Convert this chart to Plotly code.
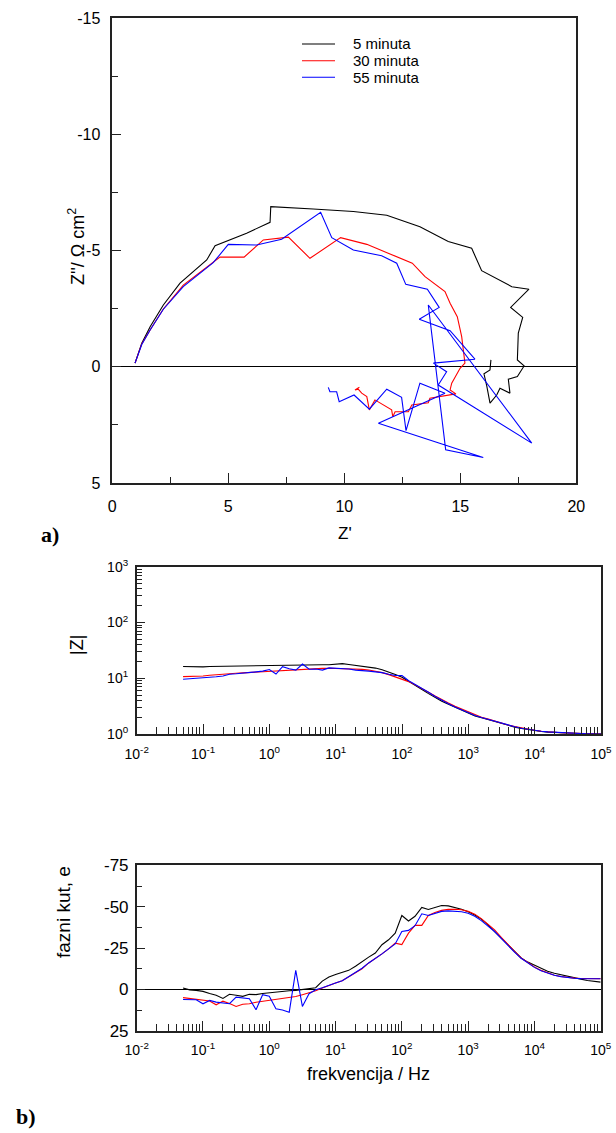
import plotly.graph_objects as go

W, H = 616, 1133

# ---------------- data ----------------
series_names = ["5 minuta", "30 minuta", "55 minuta"]
series_colors = ["#000000", "#ff0000", "#0000ff"]

# Nyquist (Z' , Z'')
nyq_re_5 = [0.98, 1.27, 1.63, 2.20, 2.92, 4.07, 4.43, 5.79, 6.80, 6.83, 8.66, 10.39, 11.83, 13.26,
            14.48, 15.49, 15.92, 17.22, 17.96, 17.17, 17.69, 17.50, 17.46, 17.75, 17.46, 17.07,
            17.14, 16.71, 16.57, 16.28, 16.14, 16.02, 16.28, 16.32]
nyq_im_5 = [-0.15, -1.01, -1.72, -2.65, -3.59, -4.59, -5.20, -5.74, -6.21, -6.88, -6.78, -6.67, -6.51, -6.02,
            -5.38, -5.09, -4.13, -3.44, -3.33, -2.55, -2.12, -1.44, -0.29, -0.03, 0.43, 0.54,
            1.14, 0.93, 1.22, 1.57, 0.83, 0.31, 0.14, -0.29]

nyq_re_30 = [0.98, 1.27, 1.63, 2.20, 3.06, 4.64, 5.68, 6.51, 7.59, 8.52, 9.84, 10.97, 11.97, 12.93,
             13.48, 14.34, 14.56, 14.87, 15.06, 15.20, 14.99, 14.63, 14.56, 14.81, 13.69, 13.62,
             12.91, 12.76, 12.19, 12.09, 12.04, 11.32, 11.08, 10.97, 10.75, 10.60, 10.46, 10.65]
nyq_im_30 = [-0.15, -0.98, -1.58, -2.48, -3.51, -4.71, -4.71, -5.45, -5.57, -4.66, -5.55, -5.26, -4.85, -4.45,
             -3.87, -3.23, -2.73, -2.15, -1.29, -0.15, 0.07, 0.71, 1.00, 1.17, 1.36, 1.55,
             1.65, 1.94, 1.94, 2.15, 1.86, 1.43, 1.86, 1.29, 1.14, 0.97, 1.00, 0.89]

nyq_re_55 = [0.98, 1.27, 1.63, 2.20, 3.06, 4.35, 5.00, 6.22, 7.30, 8.98, 9.46, 10.39, 11.61, 12.26,
             12.65, 13.58, 14.09, 13.23, 14.56, 15.63, 13.84, 14.41, 14.05, 18.08, 13.62, 14.37,
             15.99, 11.47, 14.34, 13.26, 12.66, 12.47, 11.83, 11.08, 10.42, 9.78, 9.67, 9.38, 9.31]
nyq_im_55 = [-0.15, -0.95, -1.58, -2.47, -3.44, -4.47, -5.26, -5.23, -5.48, -6.64, -5.55, -5.02, -4.77, -4.45,
             -3.54, -3.33, -2.55, -2.04, -1.55, -0.32, -0.15, 0.22, 0.79, 3.29, -2.65, 3.58,
             3.91, 2.43, 1.14, 0.71, 2.75, 1.32, 0.97, 1.83, 1.22, 1.51, 1.08, 1.08, 0.89]

# Bode
freq = [0.05, 0.063, 0.079, 0.1, 0.126, 0.158, 0.2, 0.251, 0.316, 0.398, 0.501, 0.631, 0.794, 1,
        1.26, 1.58, 2.0, 2.51, 3.16, 3.98, 5.01, 6.31, 7.94, 10,
        12.6, 15.8, 20, 25.1, 31.6, 39.8, 50.1, 63.1, 79.4, 100,
        126, 158, 200, 251, 316, 398, 501, 631, 794, 1000,
        1260, 1580, 2000, 2510, 3160, 3980, 5010, 6310, 7940, 1e4,
        12600, 15800, 20000, 25100, 31600, 39800, 50100, 63100, 79400, 1e5]

modz_5 = [16.2, 16.0, 15.9, 16.0, 16.2, 16.3, 16.3, 16.3, 16.4, 16.5, 16.6, 16.8, 16.9, 17.0,
          17.2, 17.3, 17.4, 17.4, 17.4, 17.5, 17.5, 17.5, 17.4, 17.6,
          18.3, 17.6, 17.0, 16.4, 15.9, 15.2, 14.2, 13.0, 11.7, 10.4,
          8.9, 7.4, 6.3, 5.3, 4.5, 3.85, 3.4, 3.0, 2.65, 2.35,
          2.1, 1.95, 1.8, 1.65, 1.52, 1.42, 1.33, 1.26, 1.2, 1.15,
          1.11, 1.08, 1.06, 1.05, 1.04, 1.03, 1.02, 1.01, 1.01, 1.0]
modz_30 = [10.7, 10.7, 10.8, 11.0, 11.3, 11.6, 11.9, 12.2, 12.3, 12.5, 12.7, 13.0, 13.3, 13.5,
           13.8, 14.0, 14.2, 14.4, 14.6, 14.8, 15.0, 15.0, 15.1, 15.0,
           15.0, 14.9, 14.7, 14.4, 14.0, 13.4, 12.6, 11.6, 10.6, 9.6,
           8.7, 7.6, 6.6, 5.6, 4.8, 4.1, 3.6, 3.15, 2.8, 2.5,
           2.2, 2.0, 1.85, 1.7, 1.57, 1.45, 1.36, 1.28, 1.22, 1.17,
           1.12, 1.09, 1.07, 1.05, 1.04, 1.03, 1.02, 1.01, 1.01, 1.0]
modz_55 = [9.6, 9.8, 9.9, 10.0, 10.4, 10.6, 11.0, 11.8, 12.0, 12.2, 12.6, 13.0, 13.4, 14.3,
           11.9, 16.1, 14.8, 14.0, 18.0, 14.5, 14.6, 14.0, 15.3, 15.2,
           15.0, 14.6, 14.0, 13.5, 13.4, 13.0, 12.6, 11.8, 11.2, 11.2,
           9.0, 7.7, 6.6, 5.6, 4.7, 4.0, 3.5, 3.05, 2.7, 2.45,
           2.15, 1.98, 1.82, 1.68, 1.55, 1.44, 1.35, 1.27, 1.21, 1.16,
           1.12, 1.09, 1.07, 1.05, 1.04, 1.03, 1.02, 1.01, 1.01, 1.0]

phase_5 = [-0.8, 0.3, 0.6, 1.2, 2.5, 3.6, 5.5, 3.0, 3.6, 4.2, 3.0, 3.2, 2.5, 2.0,
           1.5, 1.0, 0.8, 0.6, 0.2, -0.3, -1.0, -5.0, -7.5, -9.0,
           -10.5, -11.5, -14.0, -17.0, -19.5, -22.0, -27.0, -30.0, -34.0, -44.7,
           -41.4, -44.2, -49.6, -48.3, -49.5, -50.7, -50.5, -49.6, -48.5, -47.0,
           -45.0, -42.5, -39.0, -35.0, -31.0, -27.0, -23.0, -19.0, -16.5, -14.5,
           -12.5, -11.0, -9.8, -8.8, -8.0, -7.0, -6.2, -5.4, -4.8, -4.4]
phase_30 = [5.0, 5.5, 6.0, 6.3, 7.0, 9.3, 7.1, 8.5, 10.3, 9.0, 8.7, 7.8, 7.2, 6.8,
            6.3, 5.6, 5.0, 4.3, 3.2, 2.2, 0.8, -0.8, -2.5, -3.8,
            -5.2, -7.5, -10.0, -12.5, -16.0, -18.5, -21.5, -24.5, -28.0, -27.1,
            -34.0, -38.7, -38.7, -44.7, -46.5, -47.8, -48.4, -48.5, -48.2, -47.2,
            -45.5, -42.8, -39.5, -36.0, -31.5, -27.0, -23.0, -19.0, -16.0, -13.5,
            -11.5, -9.8, -8.5, -7.8, -7.2, -6.8, -6.6, -6.5, -6.5, -6.5]
phase_55 = [6.1, 6.2, 6.3, 8.7, 6.7, 7.7, 8.3, 8.7, 4.7, 5.2, 5.7, 12.3, 3.2, 4.2,
            11.7, 12.5, 13.8, -11.5, 10.3, 2.6, 0.2, -1.0, -2.2, -3.8,
            -5.2, -7.8, -10.0, -12.8, -16.0, -18.5, -21.5, -24.5, -27.5, -35.0,
            -35.7, -38.5, -45.7, -44.7, -46.0, -47.2, -47.5, -47.4, -47.0, -46.0,
            -44.2, -41.6, -38.5, -35.0, -30.8, -26.5, -22.5, -18.8, -15.8, -13.3,
            -11.3, -9.7, -8.5, -7.7, -7.1, -6.7, -6.5, -6.4, -6.4, -6.4]

nyq_ticks = [0, 5, 10, 15, 20]
nyq_yticks = [-15, -10, -5, 0, 5]
freq_ticks = [1e-2, 1e-1, 1e0, 1e1, 1e2, 1e3, 1e4, 1e5]
freq_ticktext = ["10<sup>-2</sup>", "10<sup>-1</sup>", "10<sup>0</sup>", "10<sup>1</sup>",
                 "10<sup>2</sup>", "10<sup>3</sup>", "10<sup>4</sup>", "10<sup>5</sup>"]
modz_ticks = [1, 10, 100, 1000]
modz_ticktext = ["10<sup>0</sup>", "10<sup>1</sup>", "10<sup>2</sup>", "10<sup>3</sup>"]
phase_ticks = [-75, -50, -25, 0, 25]

# ---------------- helpers (layout only) ----------------
def xdom(a, b):
    return [a / W, b / W]

def ydom(top, bottom):
    return [1 - bottom / H, 1 - top / H]

def px(x):
    return x / W

def py(y):
    return 1 - y / H

FONT = "Liberation Sans, Arial, sans-serif"
SERIF = "Liberation Serif, Times New Roman, serif"
AXC = "#222222"

fig = go.Figure()

nyq_re = [nyq_re_5, nyq_re_30, nyq_re_55]
nyq_im = [nyq_im_5, nyq_im_30, nyq_im_55]
modz = [modz_5, modz_30, modz_55]
phase = [phase_5, phase_30, phase_55]

for i in range(3):
    fig.add_trace(go.Scatter(x=nyq_re[i], y=nyq_im[i], mode="lines", name=series_names[i],
                             line=dict(color=series_colors[i], width=1.1),
                             xaxis="x", yaxis="y", showlegend=False))
for i in range(3):
    fig.add_trace(go.Scatter(x=freq, y=modz[i], mode="lines", name=series_names[i],
                             line=dict(color=series_colors[i], width=1.1),
                             xaxis="x2", yaxis="y2", showlegend=False))
for i in range(3):
    fig.add_trace(go.Scatter(x=freq, y=phase[i], mode="lines", name=series_names[i],
                             line=dict(color=series_colors[i], width=1.1),
                             xaxis="x3", yaxis="y3", showlegend=False))

common = dict(showgrid=False, showline=True, linecolor=AXC, linewidth=1.5, mirror=True,
              ticks="inside", tickcolor=AXC, automargin=False)

minor_log = [m * 10.0 ** e for e in range(-2, 5) for m in range(2, 10)]
minor_logy = [m * 10.0 ** e for e in range(0, 3) for m in range(2, 10)]

fig.update_layout(
    width=W, height=H,
    margin=dict(l=0, r=0, t=0, b=0, pad=0),
    paper_bgcolor="white", plot_bgcolor="white",
    font=dict(family=FONT, color="black", size=15),
    showlegend=False,
    xaxis=dict(common, domain=xdom(112.3, 576.3), anchor="y", range=[0, 20],
               tickmode="array", tickvals=nyq_ticks, ticktext=[str(v) for v in nyq_ticks],
               ticklen=10, tickwidth=1, zeroline=False, ticklabelstandoff=8,
               tickfont=dict(size=16),
               minor=dict(ticks="inside", dtick=2.5, tick0=0, ticklen=6, tickcolor=AXC, tickwidth=1)),
    yaxis=dict(common, domain=ydom(17.9, 482.9), anchor="x", range=[5, -15],
               tickmode="array", tickvals=nyq_yticks, ticktext=[str(v) for v in nyq_yticks],
               ticklen=9, tickwidth=1, zeroline=True, zerolinecolor="black", zerolinewidth=1.2,
               ticklabelstandoff=7, tickfont=dict(size=16),
               minor=dict(ticks="inside", dtick=2.5, tick0=0, ticklen=6, tickcolor=AXC, tickwidth=1)),
    xaxis2=dict(common, domain=xdom(136.7, 601), anchor="y2", type="log", range=[-2, 5],
                tickmode="array", tickvals=freq_ticks, ticktext=freq_ticktext,
                ticklen=10, tickwidth=1, ticklabelstandoff=6, tickfont=dict(size=14),
                minor=dict(ticks="inside", tickmode="array", tickvals=minor_log, ticklen=7,
                           tickcolor=AXC, tickwidth=1)),
    yaxis2=dict(common, domain=ydom(566.7, 734), anchor="x2", type="log", range=[0, 3],
                tickmode="array", tickvals=modz_ticks, ticktext=modz_ticktext,
                ticklen=9, tickwidth=1, ticklabelstandoff=4, tickfont=dict(size=14),
                minor=dict(ticks="inside", tickmode="array", tickvals=minor_logy, ticklen=6,
                           tickcolor=AXC, tickwidth=1)),
    xaxis3=dict(common, domain=xdom(136.7, 600.7), anchor="y3", type="log", range=[-2, 5],
                tickmode="array", tickvals=freq_ticks, ticktext=freq_ticktext,
                ticklen=10, tickwidth=1, ticklabelstandoff=6, tickfont=dict(size=14),
                minor=dict(ticks="inside", tickmode="array", tickvals=minor_log, ticklen=7,
                           tickcolor=AXC, tickwidth=1)),
    yaxis3=dict(common, domain=ydom(865.4, 1030.7), anchor="x3", range=[25, -75],
                tickmode="array", tickvals=phase_ticks, ticktext=[str(v) for v in phase_ticks],
                ticklen=9, tickwidth=1, zeroline=True, zerolinecolor="black", zerolinewidth=1.2,
                ticklabelstandoff=3, tickfont=dict(size=17),
                minor=dict(ticks="inside", dtick=12.5, tick0=0, ticklen=6, tickcolor=AXC, tickwidth=1)),
)

# manual legend inside the Nyquist plot
leg_y = [44, 60.7, 77.3]
for i in range(3):
    fig.add_shape(type="line", xref="paper", yref="paper",
                  x0=px(302), x1=px(335), y0=py(leg_y[i]), y1=py(leg_y[i]),
                  line=dict(color=series_colors[i], width=1.1))
    fig.add_annotation(x=px(351), y=py(leg_y[i]), xref="paper", yref="paper",
                       text=series_names[i], showarrow=False, xanchor="left", yanchor="middle",
                       font=dict(size=15, family=FONT))

def label(text, x, y, size=16, angle=0, family=FONT, bold=False):
    t = f"<b>{text}</b>" if bold else text
    fig.add_annotation(x=px(x), y=py(y), xref="paper", yref="paper", text=t, showarrow=False,
                       xanchor="center", yanchor="middle", textangle=angle,
                       font=dict(size=size, family=family, color="black"))

label("Z''/ Ω cm<sup>2</sup>", 77, 247, size=18, angle=-90)
label("Z'", 345, 533, size=17)
label("a)", 50, 534, size=22, family=SERIF, bold=True)
label("|Z|", 77, 645, size=18, angle=-90)
label("fazni kut, e", 63, 912, size=19, angle=-90)
label("frekvencija / Hz", 368, 1074, size=18)
label("b)", 26, 1116, size=22, family=SERIF, bold=True)

fig.write_html("out.html")
